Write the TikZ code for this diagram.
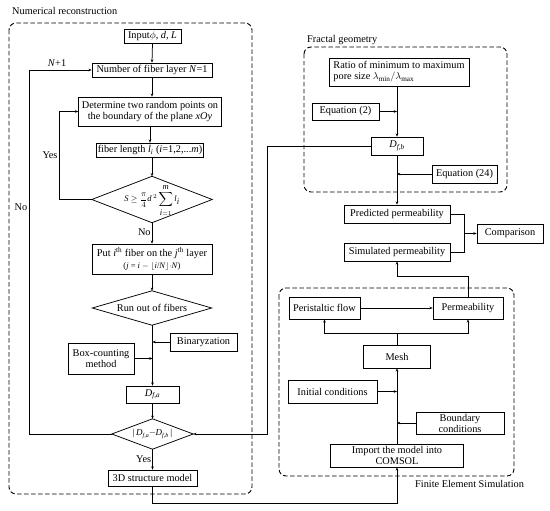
\documentclass[tikz,border=0pt]{standalone}
\usepackage{fontspec}
\setmainfont{Liberation Serif}
\usetikzlibrary{arrows.meta,calc}
\begin{document}
\begin{tikzpicture}[x=1pt,y=-1pt,
  font=\fontsize{10.3}{11}\selectfont,
  box/.style={draw,line width=0.75pt,inner sep=1pt,align=center},
  dia/.style={inner sep=0pt,align=center},
  grp/.style={draw,line width=0.9pt,dash pattern=on 4.5pt off 2.5pt,rounded corners=7pt},
  con/.style={line width=0.75pt},
  arr/.style={con,-{Stealth[length=3.2pt,width=2.6pt]}},
  lbl/.style={inner sep=0pt}]
\useasboundingbox (0,0) rectangle (550,511);
% groups
\draw[grp] (9,23) rectangle (252,494);
\draw[grp] (304,47) rectangle (507,192);
\draw[grp] (279,288) rectangle (514,476);
\node[lbl,anchor=west] (tnr) at (12,11) {Numerical reconstruction};
\node[lbl,anchor=west] (tfg) at (307,40) {Fractal geometry};
\node[lbl,anchor=west] (tfe) at (415,484) {Finite Element Simulation};
% left column
\node[box,minimum width=57,minimum height=14] (input) at (152.5,36) {Input$\phi$, \textit{d}, \textit{L}};
\node[box,minimum width=120,minimum height=14] (nlayer) at (152,70) {Number of fiber layer \textit{N}=1};
\node[box,minimum width=143,minimum height=29] (det) at (150,111.5) {Determine two random points on\\the boundary of the plane \textit{xOy}};
\node[box,minimum width=106,minimum height=14] (flen) at (150,150) {fiber length \textit{l}\textsubscript{\textit{i}} (\textit{i}=1,2,...\textit{m})};
\node[dia,minimum width=120,minimum height=46] (ds) at (152,199.5) {};
\node[lbl] (dstext) at (152,200.5) {\fontsize{8.5}{9}\selectfont$\displaystyle\textit{S}\geq\frac{\pi}{4}\textit{d}^{\,2}\sum_{\textit{i}=1}^{\textit{m}}\textit{l}_{\textit{i}}$};
\draw[con] (ds.north) -- (ds.east) -- (ds.south) -- (ds.west) -- cycle;
\node[box,minimum width=120,minimum height=30] (put) at (152,259) {Put \textit{i}\textsuperscript{th} fiber on the \textit{j}\textsuperscript{th} layer\\[1.5pt]{\fontsize{8.5}{9}\selectfont(\textit{j} = \textit{i} $-$ $\lfloor$\textit{i}/\textit{N}$\rfloor$$\cdot$\textit{N})}};
\node[dia,minimum width=119,minimum height=34] (run) at (152,308) {Run out of fibers};
\draw[con] (run.north) -- (run.east) -- (run.south) -- (run.west) -- cycle;
\node[box,minimum width=67,minimum height=18] (bin) at (203.5,342) {Binaryzation};
\node[box,minimum width=66,minimum height=31] (boxc) at (101,358.5) {Box-counting\\method};
\node[box,minimum width=53,minimum height=17] (dfa) at (152.5,394.5) {\textit{D}\textsubscript{\textit{f,a}}};
\node[dia,minimum width=81,minimum height=30] (dd) at (152.5,434) {\fontsize{9}{10}\selectfont|\,\textit{D}\textsubscript{\textit{f,a}}\kern-0.5pt$-$\kern-0.5pt\textit{D}\textsubscript{\textit{f,b}}\,|};
\draw[con] (dd.north) -- (dd.east) -- (dd.south) -- (dd.west) -- cycle;
\node[box,minimum width=89,minimum height=16] (model) at (152.5,478) {3D structure model};
% right column
\node[box,minimum width=140,minimum height=28,align=left] (ratio) at (399,72) {Ratio of minimum to maximum\\pore size $\lambda_{\min}/\lambda_{\max}$};
\node[box,minimum width=67,minimum height=17] (eq2) at (345.5,111.5) {Equation (2)};
\node[box,minimum width=52,minimum height=18] (dfb) at (397,146) {\textit{D}\textsubscript{\textit{f,b}}};
\node[box,minimum width=65,minimum height=18] (eq24) at (464.5,174) {Equation (24)};
\node[box,minimum width=106,minimum height=18] (pred) at (397,214) {Predicted permeability};
\node[box,minimum width=106,minimum height=18] (sim) at (397,252) {Simulated permeability};
\node[box,minimum width=66,minimum height=19] (comp) at (510,233.5) {Comparison};
\node[box,minimum width=71,minimum height=22] (peri) at (324.5,308) {Peristaltic flow};
\node[box,minimum width=70,minimum height=22] (perm) at (468,308) {Permeability};
\node[box,minimum width=67,minimum height=23] (mesh) at (397,356.5) {Mesh};
\node[box,minimum width=89,minimum height=23] (init) at (332.5,391.5) {Initial conditions};
\node[box,minimum width=88,minimum height=22] (bound) at (460,423) {Boundary\\conditions};
\node[box,minimum width=133,minimum height=23] (imp) at (397,455.5) {Import the model into\\COMSOL};
% coordinates
\coordinate (yl) at (59,111.5);
\coordinate (nl) at (29,70);
\coordinate (fb) at (267,146);
\coordinate (mb) at (152.5,503);
% left connectors
\draw[arr] (input.south) -- (nlayer.north);
\draw[arr] (nlayer.south) -- (nlayer.south|-det.north);
\draw[arr] (det.south-|flen.north) -- (flen.north);
\draw[arr] (flen.south) -- (flen.south-|ds.north) -- (ds.north);
\draw[arr] (ds.west) -- (ds.west-|yl) -- (yl) -- (det.west);
\node[lbl] (tyes1) at (50,155) {Yes};
\draw[arr] (ds.south) -- (put.north) node[pos=0.45,left=1pt,lbl] (tno1) {No};
\draw[arr] (put.south) -- (run.north);
\draw[arr] (run.south) -- (run.south-|dfa.north) -- (dfa.north);
\draw[arr] (bin.west) -- (bin.west-|dfa.north);
\draw[arr] (boxc.east) -- (boxc.east-|dfa.north);
\draw[arr] (dfa.south) -- (dd.north);
\draw[arr] (dd.west) -- (dd.west-|nl) -- (nl) -- (nlayer.west);
\node[lbl] (tn1) at (57,63) {\textit{N}+1};
\node[lbl] (tno2) at (21,207) {No};
\draw[arr] (dd.south) -- (model.north) node[midway,left=1pt,lbl] (tyes2) {Yes};
\draw[arr] (model.south) -- (mb) -- (mb-|imp.south) -- (imp.south);
% fractal
\draw[arr] (dfb.west) -- (fb) -- (fb|-dd.east) -- (dd.east);
\draw[arr] (ratio.south-|dfb.north) -- (dfb.north);
\draw[arr] (eq2.east) -- (eq2.east-|dfb.north);
\draw[arr] (dfb.south) -- (pred.north);
\draw[arr] (eq24.west) -- (eq24.west-|dfb.south);
% comparison
\draw[con] (pred.east) -- (464,214) -- (464,252) -- (sim.east);
\draw[arr] (464,233.5) -- (comp.west);
\draw[arr] (perm.north) -- ($(perm.north)+(0,-20)$) -| (sim.south);
% FE
\draw[arr] (peri.east) -- (perm.west);
\draw[con] (mesh.north) -- (397,333);
\draw[arr] (397,333) -| (peri.south);
\draw[arr] (397,333) -| (perm.south);
\draw[arr] (imp.north) -- (mesh.south);
\draw[arr] (init.east) -- (init.east-|mesh.south);
\draw[arr] (bound.west) -- (bound.west-|mesh.south);
\end{tikzpicture}
\end{document}
